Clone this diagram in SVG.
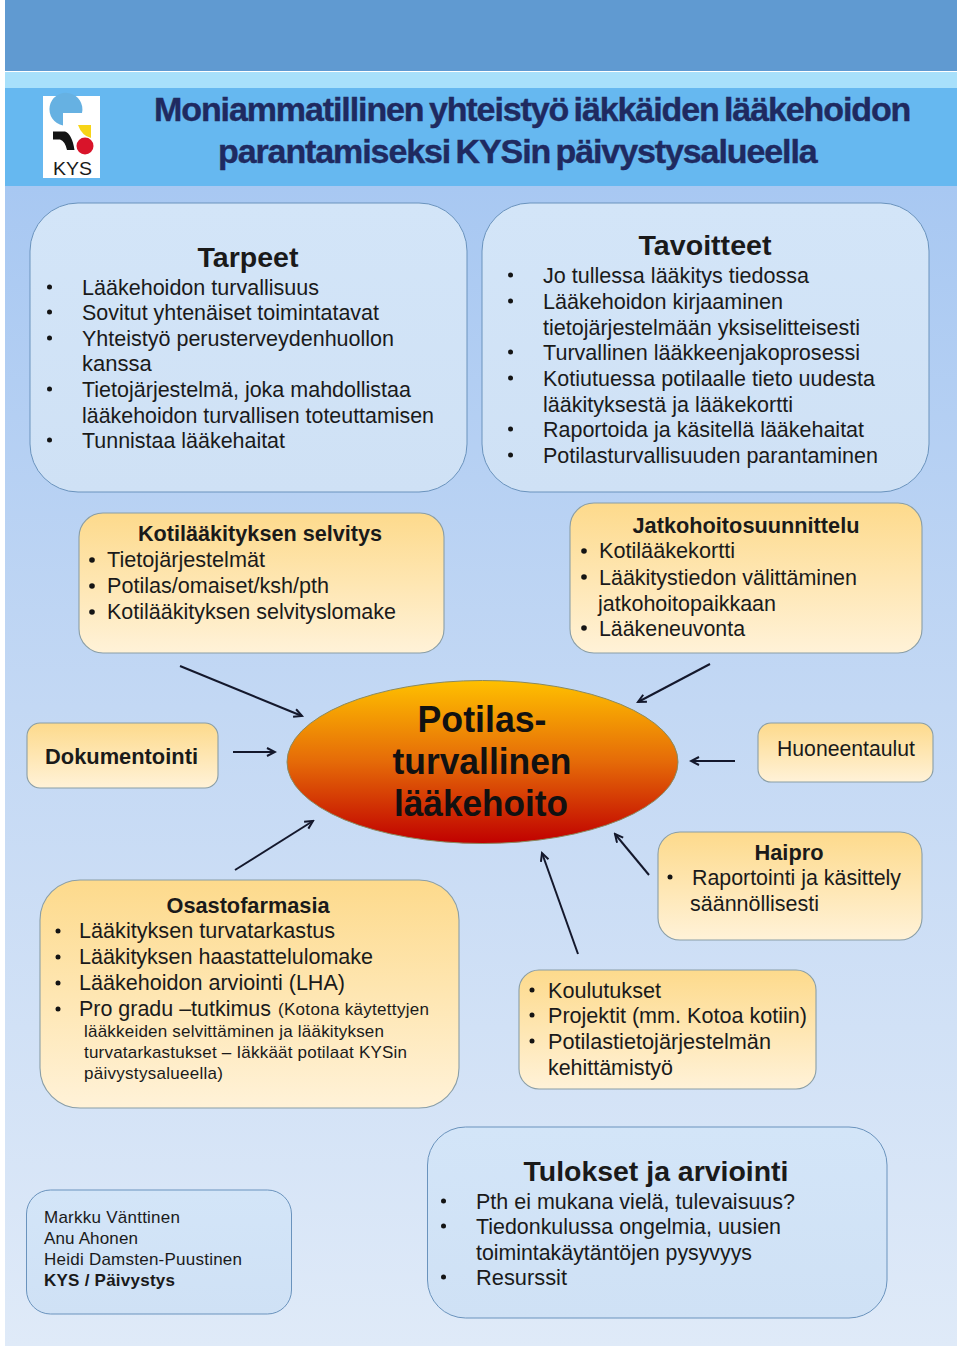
<svg xmlns="http://www.w3.org/2000/svg" width="960" height="1346" viewBox="0 0 960 1346">
<style>
text{font-family:"Liberation Sans",Arial,sans-serif;fill:#1a1a1a}
.b{font-size:22px}
.h{font-weight:bold;text-anchor:middle}
.blue{fill:url(#lb);stroke:#6a93bd;stroke-width:1}
.yel{fill:url(#ye);stroke:#8a9ea6;stroke-width:1.100}
.c{fill:none;stroke:#14182c;stroke-width:2;marker-end:url(#ah)}
.t{font-size:34px;font-weight:bold;fill:#1f2a60;stroke:#1f2a60;stroke-width:.4;letter-spacing:-1.100px;word-spacing:-3px}
.d{fill:#141414}
</style>
<defs>
<linearGradient id="bg" x1="0" y1="0" x2="0" y2="1"><stop offset="0" stop-color="#a8c8f2"/><stop offset="0.45" stop-color="#c3d8f4"/><stop offset="1" stop-color="#dfeaf8"/></linearGradient>
<linearGradient id="ye" x1="0" y1="0" x2="0" y2="1"><stop offset="0" stop-color="#fdda8c"/><stop offset="1" stop-color="#fff2d8"/></linearGradient>
<linearGradient id="lb" x1="0" y1="0" x2="0" y2="1"><stop offset="0" stop-color="#d3e5f8"/><stop offset="1" stop-color="#cfe1f5"/></linearGradient>
<linearGradient id="el" x1="0" y1="0" x2="0" y2="1"><stop offset="0" stop-color="#ffc000"/><stop offset="0.5" stop-color="#e56a08"/><stop offset="1" stop-color="#c00000"/></linearGradient>
<marker id="ah" markerUnits="userSpaceOnUse" markerWidth="12" markerHeight="12" refX="10" refY="5" orient="auto"><path d="M2 1L10 5L2 9" fill="none" stroke="#14182c" stroke-width="2"/></marker>
</defs>
<rect width="960" height="1346" fill="#fff"/>
<rect x="5" y="186" width="952" height="1160" fill="url(#bg)"/>
<rect x="5" y="0" width="952" height="71" fill="#609ad1"/>
<rect x="5" y="72" width="952" height="16" fill="#a8e0fb"/>
<rect x="5" y="88" width="952" height="98" fill="#66b8f0"/>
<g id="logo">
<rect x="43" y="96" width="57" height="82" fill="#fff"/>
<path d="M63 125.500A16.500 16.500 0 1 1 82 113H63Z" fill="#66b1e2"/>
<circle cx="85" cy="146" r="8.500" fill="#d9142a"/>
<path d="M78 125H91V138Q82 136 78 125Z" fill="#f7d417"/>
<path d="M53 131.500H65Q72 134 74.500 150H67Q65 141 60 139.500H53Z" fill="#141414"/>
<text x="53" y="175" font-size="19" textLength="39" lengthAdjust="spacingAndGlyphs">KYS</text>
</g>
<g id="title">
<text class="t" x="154" y="121">Moniammatillinen yhteistyö iäkkäiden lääkehoidon</text>
<text class="t" x="218" y="163">parantamiseksi KYSin päivystysalueella</text>
</g>
<g id="connectors">
<line class="c" x1="180" y1="666" x2="302" y2="716"/>
<line class="c" x1="710" y1="664" x2="638" y2="702"/>
<line class="c" x1="233" y1="752" x2="275" y2="752"/>
<line class="c" x1="735" y1="761" x2="691" y2="761"/>
<line class="c" x1="235" y1="870" x2="313" y2="821"/>
<line class="c" x1="649" y1="875" x2="615" y2="834"/>
<line class="c" x1="578" y1="954" x2="542" y2="853"/>
</g>
<g id="tarpeet">
<rect class="blue" x="30" y="203" width="437" height="289" rx="48"/>
<text class="h" x="248" y="267" font-size="28" textLength="101" lengthAdjust="spacingAndGlyphs">Tarpeet</text>
<g class="b">
<text x="82" y="295" textLength="237" lengthAdjust="spacingAndGlyphs">Lääkehoidon turvallisuus</text>
<text x="82" y="320" textLength="297" lengthAdjust="spacingAndGlyphs">Sovitut yhtenäiset toimintatavat</text>
<text x="82" y="346" textLength="312" lengthAdjust="spacingAndGlyphs">Yhteistyö perusterveydenhuollon</text>
<text x="82" y="371">kanssa</text>
<text x="82" y="397" textLength="329" lengthAdjust="spacingAndGlyphs">Tietojärjestelmä, joka mahdollistaa</text>
<text x="82" y="423" textLength="352" lengthAdjust="spacingAndGlyphs">lääkehoidon turvallisen toteuttamisen</text>
<text x="82" y="448" textLength="203" lengthAdjust="spacingAndGlyphs">Tunnistaa lääkehaitat</text>
</g>
<g class="d"><circle cx="49.500" cy="287" r="2.500"/><circle cx="49.500" cy="312" r="2.500"/><circle cx="49.500" cy="338" r="2.500"/><circle cx="49.500" cy="389" r="2.500"/><circle cx="49.500" cy="440" r="2.500"/></g>
</g>
<g id="tavoitteet">
<rect class="blue" x="482" y="203" width="447" height="289" rx="48"/>
<text class="h" x="705" y="255" font-size="28" textLength="133" lengthAdjust="spacingAndGlyphs">Tavoitteet</text>
<g class="b">
<text x="543" y="283" textLength="266" lengthAdjust="spacingAndGlyphs">Jo tullessa lääkitys tiedossa</text>
<text x="543" y="309" textLength="240" lengthAdjust="spacingAndGlyphs">Lääkehoidon kirjaaminen</text>
<text x="543" y="335" textLength="317" lengthAdjust="spacingAndGlyphs">tietojärjestelmään yksiselitteisesti</text>
<text x="543" y="360" textLength="317" lengthAdjust="spacingAndGlyphs">Turvallinen lääkkeenjakoprosessi</text>
<text x="543" y="386" textLength="332" lengthAdjust="spacingAndGlyphs">Kotiutuessa potilaalle tieto uudesta</text>
<text x="543" y="412" textLength="250" lengthAdjust="spacingAndGlyphs">lääkityksestä ja lääkekortti</text>
<text x="543" y="437" textLength="321" lengthAdjust="spacingAndGlyphs">Raportoida ja käsitellä lääkehaitat</text>
<text x="543" y="463" textLength="335" lengthAdjust="spacingAndGlyphs">Potilasturvallisuuden parantaminen</text>
</g>
<g class="d"><circle cx="510.500" cy="275" r="2.500"/><circle cx="510.500" cy="301" r="2.500"/><circle cx="510.500" cy="352" r="2.500"/><circle cx="510.500" cy="378" r="2.500"/><circle cx="510.500" cy="429" r="2.500"/><circle cx="510.500" cy="455" r="2.500"/></g>
</g>
<g id="kotilaakitys">
<rect class="yel" x="79" y="513" width="365" height="140" rx="24"/>
<text class="h" x="260" y="541" font-size="21.500" textLength="244" lengthAdjust="spacingAndGlyphs">Kotilääkityksen selvitys</text>
<g class="b">
<text x="107" y="567" textLength="158" lengthAdjust="spacingAndGlyphs">Tietojärjestelmät</text>
<text x="107" y="593" textLength="222" lengthAdjust="spacingAndGlyphs">Potilas/omaiset/ksh/pth</text>
<text x="107" y="619" textLength="289" lengthAdjust="spacingAndGlyphs">Kotilääkityksen selvityslomake</text>
</g>
<g class="d"><circle cx="92" cy="560" r="2.800"/><circle cx="92" cy="586" r="2.800"/><circle cx="92" cy="612" r="2.800"/></g>
</g>
<g id="jatkohoito">
<rect class="yel" x="570" y="503" width="352" height="150" rx="24"/>
<text class="h" x="746" y="533" font-size="21.500" textLength="227" lengthAdjust="spacingAndGlyphs">Jatkohoitosuunnittelu</text>
<g class="b">
<text x="599" y="558" textLength="136" lengthAdjust="spacingAndGlyphs">Kotilääkekortti</text>
<text x="599" y="585" textLength="258" lengthAdjust="spacingAndGlyphs">Lääkitystiedon välittäminen</text>
<text x="598" y="611" textLength="178" lengthAdjust="spacingAndGlyphs">jatkohoitopaikkaan</text>
<text x="599" y="636" textLength="146" lengthAdjust="spacingAndGlyphs">Lääkeneuvonta</text>
</g>
<g class="d"><circle cx="584" cy="551" r="2.800"/><circle cx="584" cy="577" r="2.800"/><circle cx="584" cy="628" r="2.800"/></g>
</g>
<g id="dokumentointi">
<rect class="yel" x="27" y="723" width="191" height="65" rx="13"/>
<text x="45" y="764" font-size="22" font-weight="bold" textLength="153" lengthAdjust="spacingAndGlyphs">Dokumentointi</text>
</g>
<g id="huoneentaulut">
<rect class="yel" x="758" y="723" width="175" height="59" rx="13"/>
<text x="777" y="756" font-size="22" textLength="138" lengthAdjust="spacingAndGlyphs">Huoneentaulut</text>
</g>
<g id="potilasturvallinen">
<ellipse cx="482.500" cy="762" rx="195.500" ry="81.500" fill="url(#el)" stroke="#8a8a60" stroke-width="1"/>
<g class="h" font-size="36">
<text x="482" y="732" textLength="129" lengthAdjust="spacingAndGlyphs" style="fill:#111">Potilas-</text>
<text x="482" y="774" textLength="179" lengthAdjust="spacingAndGlyphs" style="fill:#111">turvallinen</text>
<text x="481" y="816" textLength="174" lengthAdjust="spacingAndGlyphs" style="fill:#111">lääkehoito</text>
</g>
</g>
<g id="haipro">
<rect class="yel" x="658" y="832" width="264" height="108" rx="22"/>
<text class="h" x="789" y="860" font-size="22" textLength="69" lengthAdjust="spacingAndGlyphs">Haipro</text>
<g class="b">
<text x="692" y="885" textLength="209" lengthAdjust="spacingAndGlyphs">Raportointi ja käsittely</text>
<text x="690" y="911" textLength="129" lengthAdjust="spacingAndGlyphs">säännöllisesti</text>
</g>
<circle class="d" cx="670" cy="877" r="2.500"/>
</g>
<g id="osastofarmasia">
<rect class="yel" x="40" y="880" width="419" height="228" rx="40"/>
<text class="h" x="248" y="913" font-size="21.500" textLength="163" lengthAdjust="spacingAndGlyphs">Osastofarmasia</text>
<g class="b">
<text x="79" y="938" textLength="256" lengthAdjust="spacingAndGlyphs">Lääkityksen turvatarkastus</text>
<text x="79" y="964" textLength="294" lengthAdjust="spacingAndGlyphs">Lääkityksen haastattelulomake</text>
<text x="79" y="990" textLength="266" lengthAdjust="spacingAndGlyphs">Lääkehoidon arviointi (LHA)</text>
<text x="79" y="1016" textLength="192" lengthAdjust="spacingAndGlyphs">Pro gradu –tutkimus</text>
</g>
<g font-size="17">
<text x="278" y="1015" textLength="151" lengthAdjust="spacing">(Kotona käytettyjen</text>
<text x="84" y="1037" textLength="300" lengthAdjust="spacing">lääkkeiden selvittäminen ja lääkityksen</text>
<text x="84" y="1058" textLength="323" lengthAdjust="spacing">turvatarkastukset – Iäkkäät potilaat KYSin</text>
<text x="84" y="1079" textLength="139" lengthAdjust="spacing">päivystysalueella)</text>
</g>
<g class="d"><circle cx="58" cy="931" r="2.500"/><circle cx="58" cy="957" r="2.500"/><circle cx="58" cy="983" r="2.500"/><circle cx="58" cy="1009" r="2.500"/></g>
</g>
<g id="koulutukset">
<rect class="yel" x="519" y="970" width="297" height="119" rx="20"/>
<g class="b">
<text x="548" y="998" textLength="113" lengthAdjust="spacingAndGlyphs">Koulutukset</text>
<text x="548" y="1023" textLength="259" lengthAdjust="spacingAndGlyphs">Projektit (mm. Kotoa kotiin)</text>
<text x="548" y="1049" textLength="223" lengthAdjust="spacingAndGlyphs">Potilastietojärjestelmän</text>
<text x="548" y="1075" textLength="125" lengthAdjust="spacingAndGlyphs">kehittämistyö</text>
</g>
<g class="d"><circle cx="532" cy="990" r="2.500"/><circle cx="532" cy="1015" r="2.500"/><circle cx="532" cy="1041" r="2.500"/></g>
</g>
<g id="tekijat">
<rect class="blue" x="26.500" y="1190" width="265" height="124" rx="24"/>
<g font-size="17">
<text x="44" y="1223" textLength="136" lengthAdjust="spacing">Markku Vänttinen</text>
<text x="44" y="1244" textLength="94" lengthAdjust="spacing">Anu Ahonen</text>
<text x="44" y="1265" textLength="198" lengthAdjust="spacing">Heidi Damsten-Puustinen</text>
<text x="44" y="1286" font-weight="bold" textLength="131" lengthAdjust="spacing">KYS / Päivystys</text>
</g>
</g>
<g id="tulokset">
<rect class="blue" x="427.500" y="1127" width="459.500" height="191" rx="38"/>
<text class="h" x="656" y="1181" font-size="28" textLength="265" lengthAdjust="spacingAndGlyphs">Tulokset ja arviointi</text>
<g class="b">
<text x="476" y="1209" textLength="319" lengthAdjust="spacingAndGlyphs">Pth ei mukana vielä, tulevaisuus?</text>
<text x="476" y="1234" textLength="305" lengthAdjust="spacingAndGlyphs">Tiedonkulussa ongelmia, uusien</text>
<text x="476" y="1260" textLength="276" lengthAdjust="spacingAndGlyphs">toimintakäytäntöjen pysyvyys</text>
<text x="476" y="1285" textLength="91" lengthAdjust="spacingAndGlyphs">Resurssit</text>
</g>
<g class="d"><circle cx="443.500" cy="1201" r="2.500"/><circle cx="443.500" cy="1226" r="2.500"/><circle cx="443.500" cy="1277" r="2.500"/></g>
</g>
</svg>
